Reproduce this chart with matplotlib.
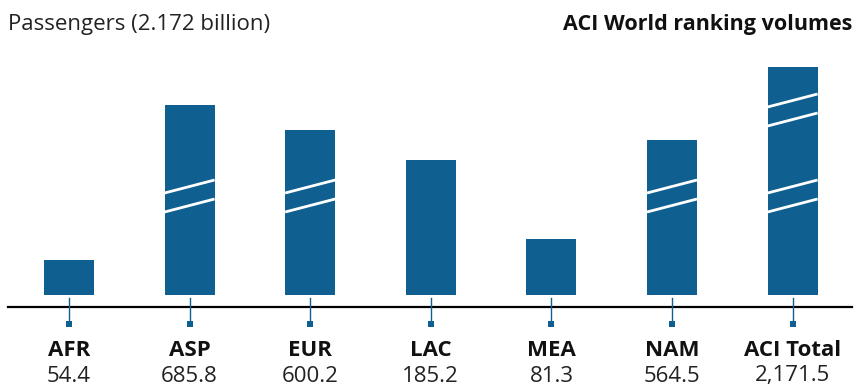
import matplotlib
matplotlib.use("Agg")
import matplotlib.pyplot as plt

# regions and passenger volumes (millions)
regions = ["AFR", "ASP", "EUR", "LAC", "MEA", "NAM", "ACI Total"]
volumes = ["54.4", "685.8", "600.2", "185.2", "81.3", "564.5", "2,171.5"]
# drawn bar heights (broken scale)
bar_heights = [35, 190, 165, 135, 56, 155, 228]
# centres of the axis-break marks on each bar
breaks = [[], [99], [99], [], [], [99], [99, 185]]

color = "#0f5f91"
plt.rcParams["font.family"] = ["Open Sans", "DejaVu Sans"]

W, H = 866, 387
fig = plt.figure(figsize=(W / 100, H / 100), dpi=100)
ax = fig.add_axes([0, 0, 1, 1])
ax.set_axis_off()

step = 120.6
x0 = 69
ax.set_xlim(-x0 / step, (W - x0) / step)
ax.set_ylim(-92, H - 92)

width = 50 / step
xs = list(range(len(regions)))
ax.bar(xs, bar_heights, width=width, color=color, linewidth=0)

# break marks: two slanted white lines per break
gap = 9.5
rise = 13
for x, blist in zip(xs, breaks):
    for b in blist:
        for off in (-gap, gap):
            yc = b + off
            ax.plot([x - width / 2, x + width / 2],
                    [yc - rise / 2, yc + rise / 2],
                    color="white", lw=2.0, solid_capstyle="butt")

# baseline
ax.axhline(-12, xmin=8 / W, xmax=852 / W, color="black", lw=1.6)

# ticks with square ends
for x in xs:
    ax.plot([x, x], [-3, -28], color=color, lw=1.0)
    ax.plot(x, -29, marker="s", ms=4.5, color=color, mew=0)

for x, name, v in zip(xs, regions, volumes):
    ax.text(x, -60.5, name, ha="center", va="baseline", fontsize=16,
            fontweight="bold", color="#111111")
    ax.text(x, -86.5, v, ha="center", va="baseline", fontsize=16,
            color="#222222")

fig.text(8 / W, 1 - 30 / H, "Passengers (2.172 billion)", ha="left",
         va="baseline", fontsize=16, color="#222222")
fig.text(852 / W, 1 - 30 / H, "ACI World ranking volumes", ha="right",
         va="baseline", fontsize=15.5, fontweight="bold", color="#111111")

fig.savefig("out.png", dpi=100)
